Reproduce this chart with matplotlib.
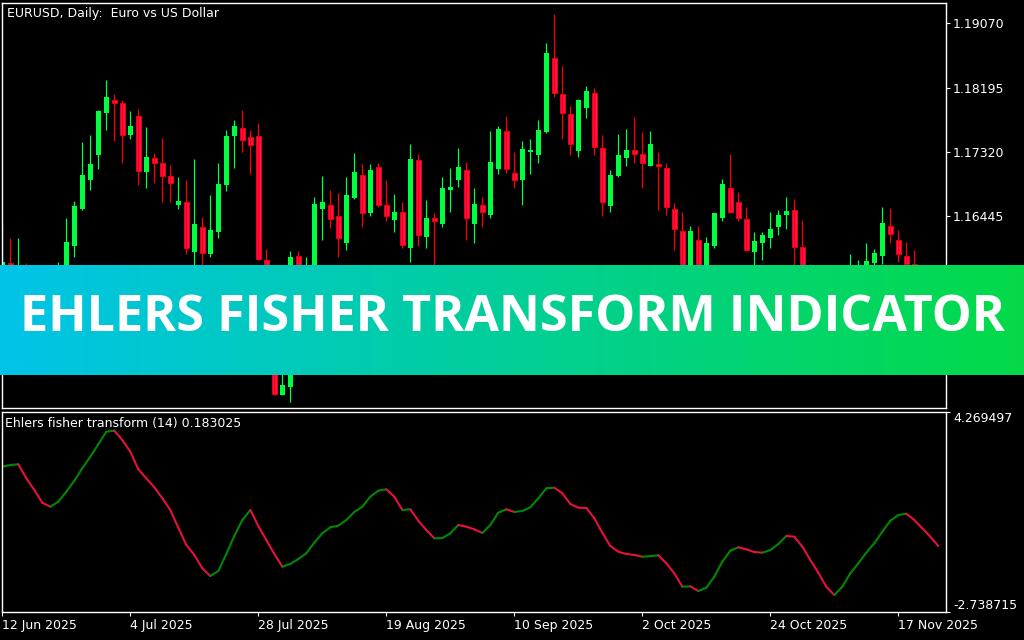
import numpy as np
import pandas as pd
import matplotlib
matplotlib.use("Agg")
import matplotlib.pyplot as plt
from matplotlib.collections import LineCollection

# EURUSD daily candles, 12 Jun 2025 onwards
opens = [
    1.1490, 1.1580, 1.1550, 1.1562, 1.1478, 1.1480, 1.1495, 1.1523, 1.1577, 1.1604,
    1.1654, 1.1694, 1.1728, 1.1785, 1.1803, 1.1798, 1.1755, 1.1781, 1.1705, 1.1723,
    1.1717, 1.1699, 1.1659, 1.1664, 1.1596, 1.1629, 1.1593, 1.1622, 1.1687, 1.1753,
    1.1765, 1.1752, 1.1753, 1.1585, 1.1546, 1.1401, 1.1412, 1.1590, 1.1572, 1.1575,
    1.1654, 1.1660, 1.1644, 1.1607, 1.1669, 1.1700, 1.1648, 1.1711, 1.1659, 1.1639,
    1.1650, 1.1601, 1.1721, 1.1616, 1.1641, 1.1633, 1.1680, 1.1694, 1.1707, 1.1634,
    1.1659, 1.1646, 1.1709, 1.1760, 1.1703, 1.1693, 1.1731, 1.1727, 1.1759, 1.1860,
    1.1811, 1.1783, 1.1733, 1.1791, 1.1812, 1.1737, 1.1658, 1.1699, 1.1724, 1.1734,
    1.1729, 1.1712, 1.1715, 1.1710, 1.1654, 1.1624, 1.1563, 1.1612, 1.1570, 1.1604,
    1.1642, 1.1682, 1.1663, 1.1640, 1.1596, 1.1608, 1.1615, 1.1629, 1.1646, 1.1652,
    1.1602, 1.1565, 1.1535, 1.1520, 1.1482, 1.1495, 1.1548, 1.1565, 1.1568, 1.1580,
    1.1590, 1.1631, 1.1612, 1.1590, 1.1579, 1.1540, 1.1512, 1.1520]
highs = [
    1.1632, 1.1614, 1.1614, 1.1580, 1.1540, 1.1500, 1.1540, 1.1582, 1.1642, 1.1665,
    1.1745, 1.1755, 1.1789, 1.1830, 1.1811, 1.1803, 1.1788, 1.1790, 1.1766, 1.1730,
    1.1751, 1.1714, 1.1698, 1.1694, 1.1722, 1.1643, 1.1673, 1.1717, 1.1762, 1.1775,
    1.1789, 1.1762, 1.1771, 1.1599, 1.1575, 1.1460, 1.1597, 1.1597, 1.1589, 1.1670,
    1.1699, 1.1680, 1.1676, 1.1698, 1.1730, 1.1715, 1.1715, 1.1717, 1.1694, 1.1674,
    1.1664, 1.1743, 1.1729, 1.1666, 1.1648, 1.1698, 1.1710, 1.1737, 1.1718, 1.1683,
    1.1670, 1.1760, 1.1767, 1.1781, 1.1732, 1.1747, 1.1749, 1.1775, 1.1880, 1.1920,
    1.1849, 1.1794, 1.1804, 1.1822, 1.1819, 1.1755, 1.1707, 1.1756, 1.1763, 1.1779,
    1.1759, 1.1760, 1.1732, 1.1717, 1.1662, 1.1650, 1.1631, 1.1631, 1.1616, 1.1649,
    1.1695, 1.1729, 1.1677, 1.1656, 1.1623, 1.1622, 1.1650, 1.1653, 1.1670, 1.1667,
    1.1639, 1.1579, 1.1555, 1.1535, 1.1510, 1.1560, 1.1593, 1.1584, 1.1608, 1.1599,
    1.1657, 1.1655, 1.1625, 1.1609, 1.1598, 1.1560, 1.1540, 1.1575]
lows = [
    1.1470, 1.1490, 1.1530, 1.1473, 1.1450, 1.1446, 1.1470, 1.1452, 1.1570, 1.1589,
    1.1652, 1.1680, 1.1708, 1.1761, 1.1746, 1.1717, 1.1750, 1.1686, 1.1682, 1.1689,
    1.1663, 1.1664, 1.1654, 1.1592, 1.1556, 1.1575, 1.1589, 1.1614, 1.1679, 1.1710,
    1.1731, 1.1702, 1.1584, 1.1520, 1.1400, 1.1400, 1.1391, 1.1560, 1.1530, 1.1560,
    1.1611, 1.1628, 1.1589, 1.1598, 1.1668, 1.1630, 1.1645, 1.1656, 1.1638, 1.1622,
    1.1601, 1.1582, 1.1603, 1.1601, 1.1572, 1.1629, 1.1650, 1.1684, 1.1612, 1.1608,
    1.1630, 1.1642, 1.1702, 1.1703, 1.1683, 1.1660, 1.1701, 1.1716, 1.1757, 1.1807,
    1.1750, 1.1728, 1.1725, 1.1778, 1.1728, 1.1645, 1.1650, 1.1698, 1.1712, 1.1716,
    1.1683, 1.1712, 1.1652, 1.1646, 1.1598, 1.1542, 1.1545, 1.1555, 1.1543, 1.1601,
    1.1637, 1.1649, 1.1638, 1.1597, 1.1577, 1.1585, 1.1601, 1.1618, 1.1626, 1.1575,
    1.1550, 1.1520, 1.1510, 1.1470, 1.1470, 1.1485, 1.1525, 1.1540, 1.1550, 1.1578,
    1.1579, 1.1607, 1.1582, 1.1565, 1.1520, 1.1490, 1.1500, 1.1510]
closes = [
    1.1582, 1.1550, 1.1562, 1.1478, 1.1480, 1.1495, 1.1523, 1.1577, 1.1609, 1.1658,
    1.1700, 1.1715, 1.1788, 1.1807, 1.1798, 1.1755, 1.1767, 1.1706, 1.1725, 1.1717,
    1.1699, 1.1689, 1.1665, 1.1601, 1.1634, 1.1594, 1.1625, 1.1688, 1.1753, 1.1767,
    1.1748, 1.1741, 1.1586, 1.1546, 1.1402, 1.1414, 1.1588, 1.1572, 1.1575, 1.1661,
    1.1663, 1.1640, 1.1615, 1.1673, 1.1704, 1.1648, 1.1707, 1.1660, 1.1645, 1.1650,
    1.1605, 1.1722, 1.1618, 1.1642, 1.1637, 1.1683, 1.1684, 1.1711, 1.1641, 1.1661,
    1.1650, 1.1718, 1.1763, 1.1709, 1.1694, 1.1736, 1.1734, 1.1762, 1.1867, 1.1812,
    1.1785, 1.1742, 1.1802, 1.1815, 1.1738, 1.1664, 1.1700, 1.1727, 1.1734, 1.1729,
    1.1716, 1.1743, 1.1712, 1.1657, 1.1627, 1.1563, 1.1624, 1.1570, 1.1608, 1.1648,
    1.1688, 1.1650, 1.1641, 1.1598, 1.1610, 1.1618, 1.1626, 1.1646, 1.1651, 1.1602,
    1.1576, 1.1535, 1.1520, 1.1482, 1.1495, 1.1550, 1.1565, 1.1570, 1.1583, 1.1594,
    1.1635, 1.1620, 1.1592, 1.1579, 1.1540, 1.1512, 1.1520, 1.1565]

# Ehlers fisher transform (14)
fisher = [
    2.353, 2.412, 2.437, 1.946, 1.536, 1.091, 0.951, 1.126, 1.477, 1.862,
    2.297, 2.703, 3.138, 3.579, 3.614, 3.288, 2.878, 2.262, 1.946, 1.631,
    1.246, 0.836, 0.215, -0.391, -0.741, -1.207, -1.477, -1.302, -0.706, -0.075,
    0.485, 0.836, 0.275, -0.216, -0.706, -1.151, -1.057, -0.881, -0.682, -0.310,
    0.019, 0.229, 0.286, 0.485, 0.766, 0.951, 1.302, 1.512, 1.561, 1.302,
    0.836, 0.860, 0.461, 0.135, -0.156, -0.150, 0.019, 0.310, 0.250, 0.159,
    0.030, 0.310, 0.741, 0.860, 0.766, 0.801, 0.930, 1.246, 1.596, 1.617,
    1.421, 1.046, 0.916, 0.910, 0.545, 0.040, -0.426, -0.626, -0.706, -0.741,
    -0.801, -0.780, -0.750, -1.032, -1.383, -1.852, -1.840, -2.003, -1.887, -1.502,
    -0.976, -0.591, -0.472, -0.541, -0.636, -0.661, -0.566, -0.356, -0.075, -0.100,
    -0.450, -0.916, -1.361, -1.852, -2.143, -1.852, -1.383, -1.032, -0.661, -0.331,
    0.075, 0.461, 0.660, 0.706, 0.485, 0.194, -0.100, -0.426]

price_ticks = [1.19070, 1.18195, 1.17320, 1.16445]
fisher_range = [-2.738715, 4.269497]
dates = pd.bdate_range("2025-06-12", periods=len(opens))

W, H = 1024, 640
fig = plt.figure(figsize=(W / 100, H / 100), dpi=100, facecolor="black")

ax = fig.add_axes([2 / W, 1 - 408 / H, 944 / W, 405 / H], facecolor="black")
ax2 = fig.add_axes([2 / W, 1 - 612 / H, 944 / W, 200 / H], facecolor="black")

x = np.arange(len(opens))
o = np.array(opens)
c = np.array(closes)
up = c >= o

bull = "#00ff40"
bear = "#ff1060"
ax.vlines(x[up], np.array(lows)[up], np.array(highs)[up], color=bull, lw=0.9)
ax.vlines(x[~up], np.array(lows)[~up], np.array(highs)[~up], color="#ff0000", lw=0.9)
ax.bar(x[up], (c - o)[up], bottom=o[up], width=0.62, color=bull, linewidth=0)
ax.bar(x[~up], (o - c)[~up], bottom=c[~up], width=0.58, color=bear,
       edgecolor="#ff0000", linewidth=0.6)

ax.set_xlim(-0.04, 117.96)
ax.set_ylim(1.13827, 1.19347)
ax.yaxis.tick_right()
ax.set_yticks(price_ticks)
ax.set_yticklabels(["%.5f" % t for t in price_ticks])
ax.set_xticks([])

# fisher line, coloured by direction
f = np.array(fisher)
pts = np.column_stack([x, f])
segs = np.stack([pts[:-1], pts[1:]], axis=1)
cols = ["#008800" if f[i + 1] >= f[i] else "#e8103c" for i in range(len(f) - 1)]
ax2.add_collection(LineCollection(segs, colors=cols, linewidths=1.5, capstyle="round"))
ax2.set_xlim(-0.04, 117.96)
ax2.set_ylim(fisher_range)
ax2.yaxis.tick_right()
ax2.set_yticks(fisher_range)
ax2.set_yticklabels(["%.6f" % v for v in fisher_range])
lbls = ax2.get_yticklabels()
lbls[0].set_va("bottom")
lbls[1].set_va("top")

xt = list(range(0, len(dates), 16))
ax2.set_xticks(xt)
ax2.set_xticklabels([f"{dates[i].day} {dates[i].strftime('%b %Y')}" for i in xt], ha="left")

for a in (ax, ax2):
    for s in a.spines.values():
        s.set_color("white")
        s.set_linewidth(1.0)
    a.tick_params(colors="white", labelcolor="white", labelsize=9, length=3, width=0.8, pad=2)

fig.text(7 / W, 1 - 13 / H, "EURUSD, Daily:  Euro vs US Dollar", color="white",
         fontsize=9, va="center")
fig.text(5 / W, 1 - 423 / H, "Ehlers fisher transform (14) 0.183025", color="white",
         fontsize=9, va="center")

# gradient banner
bax = fig.add_axes([0, 1 - 375 / H, 1, 110 / H])
left = np.array([0, 196, 232]) / 255
right = np.array([4, 218, 72]) / 255
t = np.linspace(0, 1, 512)[None, :, None]
grad = left + (right - left) * t
bax.imshow(grad, aspect="auto", extent=[0, 1, 0, 1])
bax.set_xlim(0, 1)
bax.set_ylim(0, 1)
bax.axis("off")
title = bax.text(0.5, 0.52, "EHLERS FISHER TRANSFORM INDICATOR", color="white",
                 fontsize=36, fontweight="bold", family=["Open Sans", "DejaVu Sans"],
                 ha="center", va="center")
fig.canvas.draw()
bw = title.get_window_extent().width
title.set_fontsize(36 * 987 / bw)

fig.savefig("out.png", dpi=100, facecolor="black")
